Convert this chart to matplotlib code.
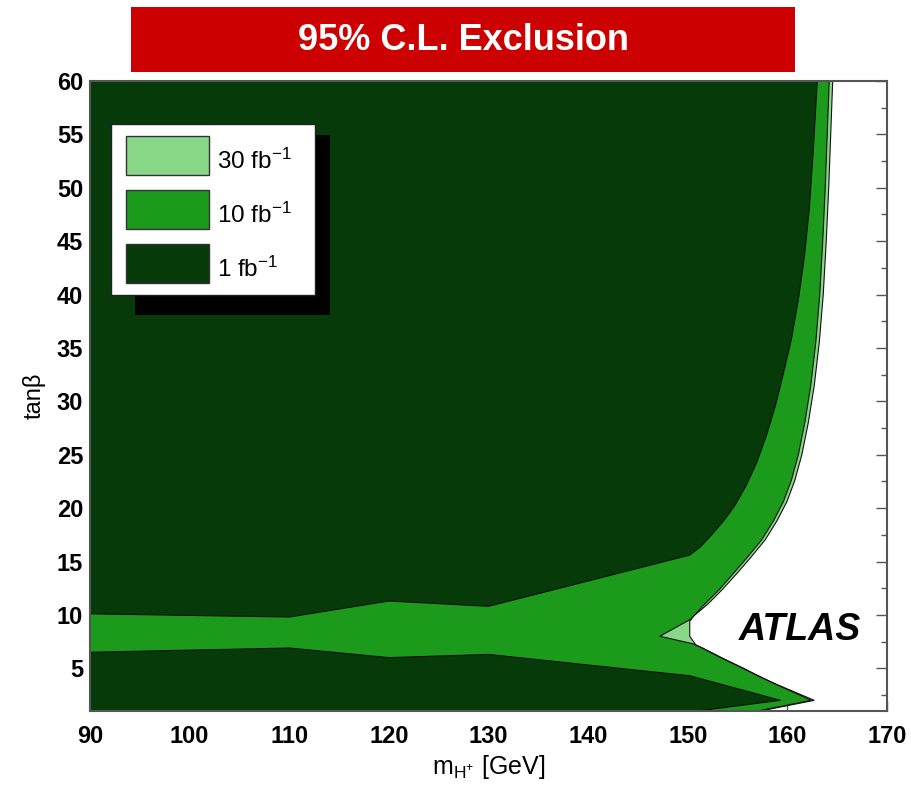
import matplotlib
matplotlib.use("Agg")
import matplotlib.pyplot as plt
from matplotlib.patches import Polygon, Rectangle

plt.rcParams['font.family'] = ['Liberation Sans', 'DejaVu Sans']
plt.rcParams['mathtext.fontset'] = 'custom'
plt.rcParams['mathtext.rm'] = 'Liberation Sans'
plt.rcParams['mathtext.it'] = 'Liberation Sans:italic'
plt.rcParams['mathtext.bf'] = 'Liberation Sans:bold'

# ---- data (contours) ----
# 1 fb^-1 excluded region, upper part: lower edge then right edge
dark_up_x = [90, 110, 120, 130, 150.2, 151.3, 152.4, 153.6, 154.7, 155.8, 156.9, 157.9, 158.8,
             159.6, 160.4, 161.1, 161.7, 162.2, 162.6, 163.0]
dark_up_y = [10.1, 9.8, 11.3, 10.8, 15.6, 16.4, 17.5, 18.8, 20.2, 22.0, 24.2, 26.8, 29.6,
             32.6, 35.8, 39.5, 43.5, 48.0, 53.5, 60.0]
# 1 fb^-1 excluded region, lower part: upper edge, tip, lower edge
dark_lo_x = [90, 110, 120, 130, 150.2, 159.3, 151.0]
dark_lo_y = [6.5, 6.9, 6.0, 6.3, 4.3, 2.0, 1.0]
# 10 fb^-1 excluded region right edge (top to bottom)
med_x = [164.2, 164.0, 163.8, 163.55, 163.25, 162.85, 162.35, 161.75, 161.1, 160.4, 159.6,
         158.6, 157.4, 155.9, 154.6, 153.2, 151.7, 150.3,
         147.2, 150.5, 151.2, 153.3, 155.3, 157.0, 158.6, 162.4, 157.0]
med_y = [60.0, 55.0, 50.0, 45.0, 40.0, 35.5, 31.5, 28.0, 25.0, 22.6, 20.6,
         18.8, 17.0, 15.3, 13.9, 12.4, 11.0, 9.6,
         8.0, 7.3, 7.0, 6.0, 5.1, 4.3, 3.6, 2.0, 1.0]
# 30 fb^-1 excluded region right edge (top to bottom)
light_x = [164.55, 164.35, 164.15, 163.9, 163.6, 163.2, 162.7, 162.1, 161.45, 160.75, 159.95,
           158.95, 157.75, 156.25, 154.95, 153.5, 152.0, 150.6,
           150.2, 150.2, 150.8, 151.5, 153.6, 155.6, 157.3, 158.9, 162.7, 157.3]
light_y = [60.0, 55.0, 50.0, 45.0, 40.0, 35.5, 31.5, 28.0, 25.0, 22.6, 20.6,
           18.8, 17.0, 15.3, 13.9, 12.4, 11.0, 9.9,
           9.4, 8.0, 7.2, 6.9, 5.9, 5.0, 4.2, 3.5, 2.0, 1.0]

labels = ['30 fb$^{-1}$', '10 fb$^{-1}$', '1 fb$^{-1}$']
c_light, c_med, c_dark = '#88d888', '#1c9a1c', '#063a08'
xticks = [90, 100, 110, 120, 130, 140, 150, 160, 170]
yticks = [5, 10, 15, 20, 25, 30, 35, 40, 45, 50, 55, 60]
XMIN, XMAX, YMIN, YMAX = 90, 170, 1, 60

fig = plt.figure(figsize=(9.11, 7.87), dpi=100)
ax = fig.add_axes([90/911, 1-711/787, 797/911, 630/787])
ax.set_xlim(XMIN, XMAX)
ax.set_ylim(YMIN, YMAX)
ax.set_axisbelow(True)

def region(xs, ys):
    return [(XMIN, YMIN), (XMIN, YMAX)] + list(zip(xs, ys))

ec = '#111111'
ax.add_patch(Polygon(region(light_x, light_y), closed=True, fc=c_light, ec=ec, lw=0.8, zorder=1))
ax.add_patch(Polygon(region(med_x, med_y), closed=True, fc=c_med, ec=ec, lw=0.8, zorder=1.1))
up = [(XMIN, YMAX)] + list(zip(dark_up_x, dark_up_y))
ax.add_patch(Polygon(up, closed=True, fc=c_dark, ec=ec, lw=0.8, zorder=1.2))
lo = list(zip(dark_lo_x, dark_lo_y)) + [(XMIN, YMIN)]
ax.add_patch(Polygon(lo, closed=True, fc=c_dark, ec=ec, lw=0.8, zorder=1.2))

# ticks
ax.set_xticks(xticks)
ax.set_yticks(yticks)
ax.set_yticks([2.5 + 5*i for i in range(12)], minor=True)
ax.tick_params(axis='x', which='both', direction='in', length=7, width=1, color='#555555',
               labelsize=17, pad=10, top=False)
ax.tick_params(axis='y', which='major', direction='in', length=8, width=1, color='#555555',
               labelsize=17, pad=5, left=False, right=True, labelleft=True)
ax.tick_params(axis='y', which='minor', direction='in', length=4, width=1, color='#555555',
               left=False, right=True)
for lab in ax.get_xticklabels() + ax.get_yticklabels():
    lab.set_fontweight('bold')
for s in ax.spines.values():
    s.set_color('#555555')
    s.set_linewidth(1.5)
    s.set_zorder(5)

ax.set_xlabel('m$_{\\mathrm{H}^{+}}$ [GeV]', fontsize=18, labelpad=4)
ax.set_ylabel('tan\u03b2', fontsize=17, labelpad=8)

# ATLAS label
ax.text(161.3, 8.6, 'ATLAS', fontsize=27, fontweight='bold', fontstyle='italic',
        ha='center', va='center', zorder=6)

# legend (manual, with shadow)
T = ax.transAxes
ax.add_patch(Rectangle((0.0565, 0.6286), 0.2442, 0.2854, transform=T, fc='black', ec='none', zorder=7))
ax.add_patch(Rectangle((0.026, 0.660), 0.256, 0.272, transform=T, fc='white', ec='#222222', lw=1, zorder=8))
sw_y = [(0.8508, 0.9132), (0.765, 0.827), (0.679, 0.741)]
sw_c = [c_light, c_med, c_dark]
base_y = [0.8598, 0.7751, 0.6894]
for (y0, y1), c, lab, by in zip(sw_y, sw_c, labels, base_y):
    ax.add_patch(Rectangle((0.0452, y0), 0.1041, y1 - y0, transform=T, fc=c, ec='#333333', lw=1, zorder=9))
    ax.text(0.159, by, lab, transform=T, fontsize=17.5, ha='left', va='baseline', zorder=10)

# title box
fig.patches.append(Rectangle((131/911, 1-72/787), 664/911, 65/787, transform=fig.transFigure,
                             fc='#cc0000', ec='none'))
fig.text(463/911, 1-40/787, '95% C.L. Exclusion', color='white', fontsize=26,
         fontweight='bold', ha='center', va='center')

fig.savefig('out.png', dpi=100)
